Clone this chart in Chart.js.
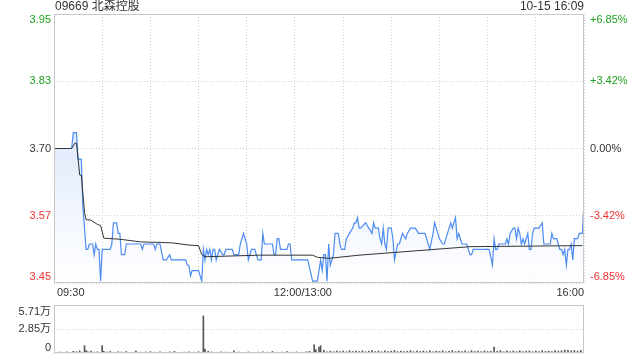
<!DOCTYPE html>
<html><head><meta charset="utf-8">
<script src="https://cdn.jsdelivr.net/npm/chart.js@4/dist/chart.umd.min.js"></script>
<style>
html,body{margin:0;padding:0;background:#fff;width:640px;height:360px;overflow:hidden}
#w1{position:absolute;left:0;top:0;width:640px;height:300px}
#w2{position:absolute;left:0;top:300px;width:640px;height:60px}
</style></head><body>
<div id="w1"><canvas id="c1" width="640" height="300"></canvas></div>
<div id="w2"><canvas id="c2" width="640" height="60"></canvas></div>
<script>
const title = '09669 北森控股';
const stamp = '10-15 16:09';
const prevClose = 3.70;
const pctSteps = [-0.0685, -0.0342, 0, 0.0342, 0.0685];
const priceTickLabels = ['3.45', '3.57', '3.70', '3.83', '3.95'];
const pctTickLabels = ['-6.85%', '-3.42%', '0.00%', '+3.42%', '+6.85%'];
const timeLabels = ['09:30', '12:00/13:00', '16:00'];
const timeLabelMinutes = [0, 150, 330];
const volTickLabels = ['0', '2.85万', '5.71万'];
const volTickValues = [0, 28550, 57100];

// minutes since 09:30 (trading minutes, lunch removed)
const priceMinutes = [0,11,12,14,15,17,18,19,20,21,22,24,25,26,27,28,29,30,35,36,37,39,40,41,42,44,45,54,55,56,62,63,64,66,68,70,72,73,82,83,84,85,86,90,92,93,94,95,96,97,98,99,100,101,102,103,105,106,107,111,112,115,116,118,119,120,121,122,123,125,127,129,130,131,136,137,138,139,140,141,145,146,147,148,158,161,164,166,167,168,169,170,171,172,174,175,177,178,179,181,182,184,186,187,188,189,190,191,194,196,198,199,200,202,203,204,205,206,207,208,210,211,212,214,215,216,217,219,220,222,225,227,231,232,233,234,236,237,238,239,240,242,243,245,247,248,249,250,251,252,253,254,257,259,260,261,271,273,274,275,276,277,281,282,283,284,286,287,288,289,290,291,292,293,294,295,296,297,298,299,302,304,305,306,309,310,311,313,315,316,317,318,319,320,321,322,323,324,326,327,329,330];
const prices = [3.70,3.70,3.73,3.73,3.68,3.68,3.59,3.55,3.51,3.51,3.52,3.52,3.50,3.52,3.51,3.51,3.45,3.51,3.51,3.52,3.56,3.56,3.54,3.54,3.50,3.50,3.52,3.52,3.51,3.52,3.52,3.51,3.52,3.52,3.49,3.49,3.50,3.49,3.49,3.48,3.48,3.46,3.47,3.47,3.45,3.51,3.49,3.51,3.50,3.51,3.49,3.51,3.51,3.49,3.50,3.51,3.50,3.50,3.51,3.51,3.50,3.50,3.52,3.54,3.53,3.52,3.49,3.50,3.51,3.51,3.49,3.49,3.54,3.52,3.52,3.50,3.50,3.53,3.53,3.51,3.51,3.52,3.52,3.49,3.49,3.45,3.45,3.49,3.47,3.50,3.50,3.45,3.52,3.48,3.50,3.54,3.54,3.52,3.51,3.51,3.53,3.54,3.55,3.56,3.56,3.57,3.55,3.55,3.56,3.55,3.54,3.56,3.55,3.55,3.53,3.52,3.55,3.52,3.51,3.55,3.55,3.53,3.49,3.52,3.52,3.53,3.54,3.53,3.54,3.55,3.55,3.54,3.54,3.53,3.52,3.51,3.54,3.56,3.55,3.54,3.53,3.52,3.52,3.54,3.56,3.55,3.56,3.57,3.53,3.54,3.53,3.52,3.52,3.50,3.50,3.51,3.51,3.48,3.53,3.51,3.51,3.52,3.52,3.53,3.52,3.54,3.55,3.55,3.53,3.55,3.54,3.52,3.53,3.52,3.53,3.54,3.51,3.51,3.54,3.55,3.55,3.56,3.52,3.52,3.52,3.54,3.53,3.53,3.51,3.51,3.50,3.51,3.48,3.51,3.51,3.52,3.49,3.53,3.53,3.54,3.54,3.60];

const avgMinutes = [0,11,13,14,16,17,19,20,23,27,29,31,41,54,66,74,84,90,92,94,128,161,164,171,190,259,329];
const avgPrices = [3.70,3.70,3.71,3.71,3.65,3.65,3.58,3.566,3.565,3.557,3.555,3.531,3.529,3.524,3.523,3.522,3.518,3.517,3.50,3.496,3.499,3.499,3.495,3.493,3.499,3.515,3.517];

const volMinutes = [0,2,4,6,8,10,12,14,16,19,20,21,23,25,27,30,31,33,35,37,40,42,45,48,51,54,57,60,63,66,69,72,75,78,81,84,87,90,93,94,96,98,101,104,107,110,112,115,118,121,124,127,130,133,136,139,142,145,148,151,154,157,159,162,163,165,166,168,170,172,174,176,178,180,182,184,186,188,190,192,194,196,198,200,202,204,206,208,210,212,214,216,218,220,222,224,226,228,230,232,234,236,238,240,242,244,246,248,250,252,254,256,258,260,262,264,266,268,270,272,274,276,278,280,282,284,286,288,290,292,294,296,298,300,302,304,306,308,310,312,314,316,318,320,322,324,326,328,330];
const volumes = [2500,800,1200,600,1500,900,2000,1500,2500,8700,3000,1500,2200,1000,1400,8700,2000,1200,1800,900,1500,1100,1800,900,2400,1000,1300,1700,900,1500,800,1300,2000,800,1100,1400,1000,1600,44100,4700,2000,1200,900,1300,1000,900,2500,1200,800,1300,900,1100,1500,1000,1800,900,1200,1600,1000,1300,900,1500,2000,9800,4000,7000,8700,3200,1500,2200,1500,2500,1800,2200,1500,2800,1800,2400,1600,2600,1500,2200,2800,1700,2400,1500,2600,1800,2200,3000,1600,2400,1800,2000,2800,1500,2200,1800,2500,1600,2800,1500,2200,1800,2600,1500,2000,2800,1600,2200,1800,2500,1500,2800,1800,2200,1600,2500,1800,2000,7100,2200,2800,1500,2600,1800,2400,1600,2800,1800,2200,2600,1600,2400,1800,2800,2000,2400,1800,3000,2200,2600,3500,3200,2500,3000,2200,3200,2800];

const FONT = 'Arial, "Liberation Sans", "Noto Sans CJK SC", sans-serif';
const GREEN = '#1f9f1f', RED = '#ee3030', DARK = '#333333', GRID = '#d0d0d0', FRAME = '#c8c8c8';
const priceTicks = pctSteps.map(p => prevClose * (1 + p));
const yMin = priceTicks[0], yMax = priceTicks[priceTicks.length - 1];

function colorFor(i) { return pctSteps[i] > 0 ? GREEN : (pctSteps[i] < 0 ? RED : DARK); }

const framePlugin = {
  id: 'frame',
  beforeDatasetsDraw(chart) {
    if (chart.canvas.id !== 'c1') return;
    const c = chart.ctx, a = chart.chartArea;
    c.save();
    c.font = '12px ' + FONT; c.fillStyle = '#d4d4d4';
    c.textAlign = 'right'; c.textBaseline = 'middle';
    c.fillText('sina.com', a.right - 17, a.bottom - 6);
    c.restore();
  },
  afterDraw(chart) {
    const c = chart.ctx, a = chart.chartArea;
    c.save();
    c.strokeStyle = FRAME; c.lineWidth = 1;
    c.strokeRect(Math.round(a.left) + 0.5, Math.round(a.top) + 0.5, Math.round(a.right - a.left) - 1, Math.round(a.bottom - a.top) - 1);
    c.font = '11px ' + FONT; c.textBaseline = 'middle';
    const y = chart.scales.y, x = chart.scales.x;
    if (chart.canvas.id === 'c1') {
      priceTicks.forEach((v, i) => {
        let py = y.getPixelForValue(v);
        py = Math.min(Math.max(py, a.top + 6), a.bottom - 6);
        c.fillStyle = colorFor(i);
        c.textAlign = 'right'; c.fillText(priceTickLabels[i], a.left - 3, py);
        c.textAlign = 'left'; c.fillText(pctTickLabels[i], a.right + 6, py);
      });
      c.fillStyle = DARK;
      c.font = '12px ' + FONT;
      c.textAlign = 'left'; c.fillText(title, a.left + 1, 7);
      c.textAlign = 'right'; c.fillText(stamp, a.right, 7);
      c.font = '11px ' + FONT;
      timeLabels.forEach((t, i) => {
        const px = x.getPixelForValue(timeLabelMinutes[i]);
        c.textAlign = i === 0 ? 'left' : (i === timeLabels.length - 1 ? 'right' : 'center');
        c.fillText(t, i === 0 ? px + 3 : px + (i === timeLabels.length - 1 ? 0 : 8), a.bottom + 10);
      });
    } else {
      volTickValues.forEach((v, i) => {
        let py = y.getPixelForValue(v);
        py = Math.min(Math.max(py, a.top + 7), a.bottom - 5);
        c.fillStyle = DARK; c.textAlign = 'right';
        c.fillText(volTickLabels[i], a.left - 3, py);
      });
    }
    c.restore();
  }
};

const baseGrid = { color: GRID, drawTicks: false, lineWidth: 1 };
const baseBorder = { display: false, dash: [1, 2] };

new Chart(document.getElementById('c1'), {
  type: 'line',
  data: {
    datasets: [
      {
        data: avgMinutes.map((m, i) => ({ x: m, y: avgPrices[i] })),
        borderColor: '#333333', borderWidth: 1, pointRadius: 0, fill: false, tension: 0
      },
      {
        data: priceMinutes.map((m, i) => ({ x: m, y: prices[i] })),
        borderColor: '#4d8cf0', borderWidth: 1.2, pointRadius: 0, tension: 0,
        fill: 'start',
        backgroundColor(ctx) {
          const ch = ctx.chart, a = ch.chartArea;
          if (!a) return 'rgba(0,0,0,0)';
          const g = ch.ctx.createLinearGradient(0, a.top, 0, a.bottom);
          g.addColorStop(0, '#c4d8f7');
          g.addColorStop(1, 'rgba(255,255,255,0.9)');
          return g;
        }
      }
    ]
  },
  options: {
    responsive: false, animation: false, events: [],
    layout: { padding: { left: 54, right: 56, top: 14, bottom: 17 } },
    plugins: { legend: { display: false }, tooltip: { enabled: false } },
    scales: {
      x: { type: 'linear', min: 0, max: 330, offset: false,
           ticks: { display: false, stepSize: 30 }, grid: baseGrid, border: baseBorder },
      y: { type: 'linear', min: yMin, max: yMax,
           afterBuildTicks(s) { s.ticks = priceTicks.map(v => ({ value: v })); },
           ticks: { display: false }, grid: baseGrid, border: baseBorder }
    }
  },
  plugins: [framePlugin]
});

new Chart(document.getElementById('c2'), {
  type: 'bar',
  data: {
    datasets: [{
      data: volMinutes.map((m, i) => ({ x: m, y: volumes[i] })),
      backgroundColor: '#555555', barThickness: 1, borderWidth: 0
    }]
  },
  options: {
    responsive: false, animation: false, events: [],
    layout: { padding: { left: 54, right: 56, top: 5, bottom: 7 } },
    plugins: { legend: { display: false }, tooltip: { enabled: false } },
    scales: {
      x: { type: 'linear', min: 0, max: 330, offset: false,
           ticks: { display: false, stepSize: 330 }, grid: { display: false, drawTicks: false }, border: { display: false } },
      y: { type: 'linear', min: 0, max: 57100,
           afterBuildTicks(s) { s.ticks = volTickValues.map(v => ({ value: v })); },
           ticks: { display: false }, grid: baseGrid, border: baseBorder }
    }
  },
  plugins: [framePlugin]
});
</script>
</body></html>
